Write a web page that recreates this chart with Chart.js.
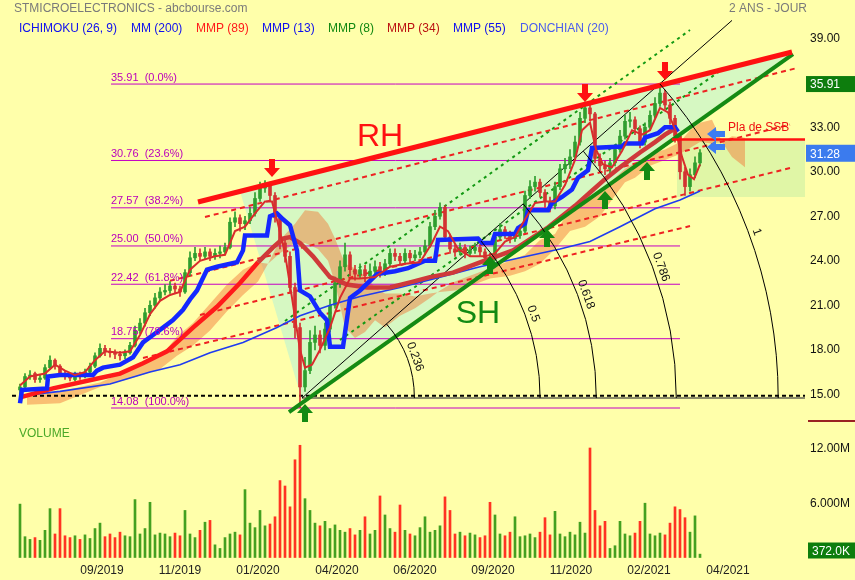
<!DOCTYPE html>
<html>
<head>
<meta charset="utf-8">
<script src="https://cdn.jsdelivr.net/npm/chart.js@4.4.1/dist/chart.umd.min.js"></script>
<style>
  html, body { margin: 0; padding: 0; background: #ffffaa; }
</style>
</head>
<body>
<canvas id="stockChart" width="855" height="580"></canvas>
<script>
// x axis: one sample every 3 trading days, index 0 = first candle
const tickPos = [16.4, 32, 47.6, 63.4, 79, 94.6, 110.2, 125.8, 141.6];
const tickLabels = ['09/2019', '11/2019', '01/2020', '04/2020', '06/2020', '09/2020', '11/2020', '02/2021', '04/2021'];
const priceTicks = [15, 18, 21, 24, 27, 30, 33, 36, 39];

const openP = [15.3,15.5,16.2,16.4,16.0,16.1,16.8,17.3,16.9,16.4,
  16.2,16.0,16.3,16.2,16.5,16.9,17.6,18.1,17.9,17.8,
  17.7,17.6,17.8,18.3,19.3,19.8,20.5,21.0,21.5,21.9,
  22.0,22.3,22.1,21.9,23.2,24.2,24.5,24.3,24.6,24.3,
  24.5,24.6,24.9,26.6,26.9,26.5,26.7,27.2,28.2,28.9,
  29.1,28.4,26.9,25.2,24.3,22.2,19.5,15.5,16.6,18.5,
  19.0,18.3,19.4,21.0,22.5,23.6,24.4,23.4,23.1,23.4,
  23.0,23.3,23.6,23.2,23.8,24.5,24.3,24.0,24.5,24.2,
  24.4,24.6,25.0,26.3,27.0,27.6,25.6,24.8,24.6,24.9,
  24.5,24.7,24.9,24.6,24.2,24.1,25.6,26.1,25.8,25.5,
  25.7,26.0,28.4,29.0,29.3,28.6,28.0,27.7,29.0,30.2,
  30.5,31.0,32.0,33.6,34.3,33.9,30.9,30.4,30.2,30.6,
  31.5,32.4,33.4,33.5,32.9,32.0,33.0,33.8,34.6,35.3,
  34.5,33.6,32.4,30.0,29.0,29.8,30.6];
const highP = [15.7,16.4,16.6,16.5,16.3,17.0,17.6,17.4,17.0,16.6,
  16.4,16.5,16.5,16.7,17.1,17.8,18.4,18.3,18.1,18.0,
  17.9,18.0,18.5,19.6,20.1,20.8,21.3,21.8,22.2,22.4,
  22.6,22.5,22.3,23.4,24.6,24.9,24.8,24.9,24.8,24.8,
  25.0,25.2,26.9,27.3,27.1,27.0,27.6,28.6,29.3,29.4,
  29.3,28.6,27.1,25.5,24.6,22.5,19.8,17.5,19.3,19.6,
  19.3,19.8,21.4,22.9,24.0,25.2,24.6,23.7,23.8,23.7,
  23.8,24.0,23.9,24.1,24.8,24.8,24.5,24.8,24.7,24.7,
  24.9,25.4,26.6,27.4,27.9,27.7,25.8,25.1,25.2,25.1,
  25.0,25.2,25.1,24.8,24.5,25.9,26.5,26.3,26.0,26.0,
  26.4,28.7,29.4,29.7,29.5,28.8,28.3,29.3,30.5,30.9,
  31.5,32.4,34.0,34.7,34.6,34.0,31.2,30.7,30.9,31.8,
  32.8,33.8,34.0,33.7,33.1,33.3,34.1,35.0,35.9,35.5,
  34.7,33.8,32.5,30.3,30.2,31.0,31.5];
const lowP = [15.0,15.4,16.0,15.8,15.8,16.0,16.7,16.7,16.3,16.0,
  15.9,15.9,16.0,16.1,16.4,16.8,17.5,17.6,17.5,17.4,
  17.3,17.4,17.7,18.2,19.1,19.6,20.3,20.8,21.3,21.7,
  21.8,21.8,21.6,21.8,23.0,24.0,24.0,24.1,24.0,24.1,
  24.2,24.4,24.8,26.3,26.0,26.1,26.5,27.0,28.0,28.6,
  28.1,26.6,24.8,23.9,21.8,18.8,14.1,15.2,16.4,18.0,
  17.8,18.0,19.2,20.8,22.2,23.3,23.0,22.7,22.8,22.6,
  22.8,23.0,22.9,23.0,23.6,24.0,23.7,23.8,23.9,24.0,
  24.2,24.4,24.9,26.1,26.8,25.3,24.5,24.3,24.4,24.2,
  24.3,24.5,24.3,23.8,23.6,24.0,25.4,25.5,25.2,25.3,
  25.5,25.9,28.2,28.7,28.3,27.6,27.3,27.5,28.8,29.9,
  30.2,30.8,31.8,33.3,33.5,30.6,30.0,29.8,29.9,30.4,
  31.3,32.2,33.0,32.5,31.6,31.8,32.8,33.6,34.4,34.2,
  33.2,32.0,29.5,28.4,28.7,29.6,30.4];
const closeP = [15.5,16.2,16.3,16.0,16.1,16.8,17.3,16.9,16.4,16.2,
  16.1,16.3,16.2,16.5,16.9,17.6,18.1,17.9,17.8,17.7,
  17.6,17.8,18.3,19.3,19.8,20.5,21.0,21.5,21.9,22.0,
  22.3,22.1,21.9,23.2,24.2,24.5,24.3,24.6,24.3,24.5,
  24.6,24.9,26.6,26.9,26.5,26.7,27.2,28.2,28.9,29.1,
  28.4,26.9,25.2,24.3,22.2,19.5,15.5,16.6,18.5,19.0,
  18.3,19.4,21.0,22.5,23.6,24.4,23.4,23.1,23.4,23.0,
  23.3,23.6,23.2,23.8,24.5,24.3,24.0,24.5,24.2,24.4,
  24.6,25.0,26.3,27.0,27.6,25.6,24.8,24.6,24.9,24.5,
  24.7,24.9,24.6,24.2,24.1,25.6,26.1,25.8,25.5,25.7,
  26.0,28.4,29.0,29.3,28.6,28.0,27.7,29.0,30.2,30.5,
  31.0,32.0,33.6,34.3,33.9,30.9,30.4,30.2,30.6,31.5,
  32.4,33.4,33.5,32.9,32.0,33.0,33.8,34.6,35.3,34.5,
  33.6,32.4,30.0,29.0,29.8,30.6,31.28];
// volume in millions of shares
const volume = [5.9,2.3,2.0,2.2,1.9,3.0,5.4,2.6,5.4,2.4,
  2.2,2.4,2.0,2.5,2.1,3.2,3.8,2.3,2.6,2.2,
  2.8,2.4,2.3,6.4,2.6,3.2,6.1,2.5,2.7,2.6,
  2.3,2.7,2.4,5.2,2.6,2.2,3.0,3.9,4.1,1.4,
  1.0,2.2,2.6,2.8,2.5,7.5,3.8,3.3,5.2,3.5,
  3.7,4.5,8.5,7.9,5.6,10.8,12.4,6.5,5.2,3.8,
  3.5,4.0,3.2,3.6,3.0,2.8,3.2,2.5,3.0,4.5,
  2.6,3.0,6.8,4.7,3.2,2.8,5.8,3.0,2.6,2.4,
  3.3,4.5,2.8,3.0,3.5,6.7,5.2,2.6,2.8,2.4,
  2.7,2.5,2.2,2.4,6.1,4.7,2.6,2.4,2.8,4.5,
  2.3,2.4,2.6,2.2,2.8,4.4,2.5,5.1,2.6,2.3,
  2.8,2.5,3.9,2.7,12.1,5.2,3.5,4.0,1.0,1.3,
  4.0,2.6,2.4,2.7,4.0,6.0,2.6,2.4,2.7,2.5,
  3.8,5.6,5.3,4.4,2.8,4.6,0.372];

// indicators, [index, price]
const mm200 = [[0,14.9],[8,15.2],[18,15.7],[26,16.5],[32,17.0],[38,17.8],[44.6,18.5],[48,19.0],[51.4,19.5],
  [56,20.3],[62,21.0],[68,21.6],[76,22.2],[84,22.9],[92,23.6],[100,24.2],[108,24.8],[114,25.3],[120,26.3],
  [127,27.5],[132,28.1],[136,28.7]];
const kijun = [[0,14.4],[0.4,15.3],[5.4,15.4],[5.6,16.2],[8,16.3],[14.6,16.3],[15.4,16.6],[16.6,16.8],[20,17.0],
  [22.6,17.5],[24.6,18.5],[26.6,19.0],[28.6,19.5],[30.6,20.0],[32.6,20.7],[34,21.4],[35.4,22.0],[36.4,22.7],
  [37.4,23.4],[39.4,23.6],[43.4,23.9],[44.6,24.7],[45,25.7],[49.4,25.7],[50,27.0],[51.4,27.2],[52.6,26.8],
  [54,26.4],[55.4,24.7],[56,22.0],[58,21.6],[60,20.5],[61.4,20.0],[62,18.2],[64.6,18.2],[66,21.5],[68,22.0],
  [71.4,23.1],[75,23.3],[77.6,23.5],[81,24.0],[83,24.0],[83.6,25.4],[91.6,25.5],[92.4,25.2],[94.4,25.2],
  [95,25.8],[99,25.8],[99.6,26.2],[101,26.5],[101.6,27.4],[105.6,27.4],[106.4,27.9],[108.4,28.3],[110.4,28.8],
  [111.6,29.6],[113.6,30.1],[114.4,31.6],[120.4,31.7],[121,31.9],[124.4,31.9],[125,32.3],[127.6,32.6],
  [129,33.0],[131,33.0],[131.6,32.7]];
const mmp89 = [[0,14.8],[6.6,15.4],[14.6,16.0],[20,16.4],[24.6,17.1],[29.4,17.9],[34.6,19.5],[39.4,20.9],
  [44,22.5],[47.6,23.9],[50.6,24.9],[52.6,25.5],[54,25.6],[56,25.2],[58.6,24.3],[62,22.9],[65.4,22.4],
  [69.4,22.2],[74,22.2],[78.6,22.6],[82,22.9],[86.6,23.2],[92,23.9],[98.6,24.7],[105.4,26.2],[108,26.9],
  [111,27.7],[114,28.6],[117,29.5],[120.4,30.4],[124,31.3],[127,32.0],[129,32.5],[131.4,33.0]];
const mmp8 = [[0,15.6],[2,16.2],[5,16.4],[7,17.0],[9,16.6],[11,16.3],[13,16.5],[15,17.3],[17,17.9],[20,17.8],
  [22,17.9],[24,19.0],[26,20.4],[28,21.3],[30,21.7],[32,21.9],[34,23.4],[36,24.0],[39,24.3],[41,24.4],
  [43,26.0],[45,26.3],[47,27.2],[49,28.0],[50.4,28.0],[51.6,26.5],[53,24.5],[54.4,21.5],[56,18.0],[57,16.8],
  [58.4,17.0],[60,18.0],[62,19.5],[64,21.5],[66,22.8],[68,22.8],[71,22.9],[74,23.6],[77,23.8],[80,23.9],
  [82.4,25.2],[84,26.3],[85.6,26.0],[87.6,24.8],[90,24.3],[93,24.3],[95,24.5],[97,25.3],[99,25.6],[101,26.8],
  [103,27.9],[105,28.0],[107,28.0],[109,29.1],[111,30.8],[112.4,32.8],[114,33.3],[115.2,31.5],[116.6,30.5],
  [118.4,30.3],[120.4,31.4],[122.4,32.8],[124.4,32.5],[126,32.8],[128,34.3],[129.6,34.0],[131.2,32.7],
  [132.4,31.0],[133.6,29.8],[134.8,29.5],[136,30.5]];
const cloudX = [1.4,8,16,23.4,28,31.4,34.6,38,41.4,44.6,47.6,49.6,52,55,57,59.6,61.6,63,65,67,69,71,73,76,79,
  82,84,87,90,94,98,101,104,107,110,113,116,119,121,123,126,129,132,134,136,138.4,140.4,142.4,145];
const spanA = [15.0,15.2,15.8,16.9,17.5,18.9,19.8,21.1,22.4,23.4,23.9,23.8,24.5,25.2,25.2,24.8,24.0,22.5,19.5,
  18.8,19.2,20.0,19.5,20.3,20.8,21.5,22.0,22.6,23.0,23.5,24.0,24.4,25.4,25.8,27.5,28.0,28.6,29.6,30.2,30.6,
  31.2,31.5,32.0,32.8,33.3,33.5,32.0,31.0,30.3];
const spanB = [14.3,14.4,15.5,16.2,16.7,17.6,18.3,19.3,20.6,21.7,22.6,23.8,25.4,26.5,27.4,27.3,26.5,25.5,23.8,
  23.5,23.0,22.2,21.8,21.8,21.6,21.8,21.9,22.0,22.3,22.8,23.0,23.3,23.8,24.8,26.0,26.3,27.0,28.4,29.3,29.6,
  30.4,30.8,31.2,31.6,32.0,31.9,32.0,32.4,32.3];

// drawn lines, [index, price] end points
const rhLine = [[35.6,27.96],[154.4,38.07]];
const shLine = [[53.8,13.81],[154.6,37.93]];
const redChannels = [[[37,26.95],[155.4,36.99]], [[30,22.65],[154,33.18]], [[36,20.35],[154,30.25]], [[24.6,17.45],[134,26.34]]];
const greenChannels = [[[53,19.94],[134,39.55]], [[64,18.66],[139.6,36.7]]];
const fanLine = [[56.4,14.75],[142.4,40.2]];
const lowDashed = [[-1.6,14.9],[157,14.9]];
const arcBase = [[56.4,14.75],[157,14.75]];
const arcHigh = [128, 35.91];
const arcRatios = [0.236, 0.5, 0.618, 0.786, 1];
const arcLabels = ['0.236', '0.5', '0.618', '0.786', '1'];
const fibLevels = [35.91, 30.76, 27.57, 25.00, 22.42, 18.75, 14.08];
const fibPct = ['0.0%', '23.6%', '38.2%', '50.0%', '61.8%', '78.6%', '100.0%'];
const fibSpan = [18.2, 132];
const wedge = [[44,28.68],[154.6,38.07],[56.4,14.62]];
const ssbLevel = 32.17;
const projBox = [131.4, 157, 28.3, 32.14];
const redArrows = [[50.4,29.65],[113,34.7],[129,36.18]];
const greenArrows = [[57,14.35],[94,24.32],[105.4,26.14],[117,28.7],[125.4,30.66]];
const blueArrows = [[137.4,32.54],[137.4,31.67]];
const lastClose = 31.28;
const lastVolume = '372.0K';

const FONT = "Arial, 'Liberation Sans', sans-serif";
const idx = closeP.map((_, i) => i);
const candleCol = closeP.map((c, i) => c >= openP[i] ? '#2f9e2f' : '#d33232');
const volCol = closeP.map((c, i) => c >= openP[i] ? '#44a020' : '#ff3322');
const xy = pts => pts.map(([x, y]) => ({ x, y }));

function line(points, color, width, dash, order, extra) {
  return Object.assign({
    type: 'line', data: xy(points), borderColor: color, borderWidth: width,
    borderDash: dash || [], pointRadius: 0, fill: false, order: order, yAxisID: 'y'
  }, extra || {});
}

const datasets = [
  { type: 'line', data: cloudX.map((x, k) => ({ x, y: spanA[k] })), borderWidth: 0, pointRadius: 0,
    fill: '+1', backgroundColor: 'rgba(242,112,48,0.45)', order: 30, yAxisID: 'y' },
  { type: 'line', data: cloudX.map((x, k) => ({ x, y: spanB[k] })), borderWidth: 0, pointRadius: 0,
    fill: false, order: 31, yAxisID: 'y' },
  ...fibLevels.map(v => line([[fibSpan[0], v], [fibSpan[1], v]], '#c400c4', 1, null, 28)),
  ...redChannels.map(p => line(p, '#ee2222', 2, [5, 4], 26)),
  ...greenChannels.map(p => line(p, '#139913', 2, [3, 4], 26)),
  line(fanLine, '#000000', 1, null, 25),
  line(lowDashed, '#000000', 2, [4, 3], 25),
  line(arcBase, '#8c8c6a', 2, null, 25),
  { type: 'bar', data: idx.map(i => ({ x: i, y: volume[i] })), backgroundColor: volCol,
    barThickness: 2, grouped: false, order: 24, yAxisID: 'vol' },
  { type: 'bar', data: idx.map(i => ({ x: i, y: [lowP[i], highP[i]] })), backgroundColor: candleCol,
    barThickness: 1, grouped: false, order: 22, yAxisID: 'y' },
  { type: 'bar', data: idx.map(i => ({ x: i, y: [openP[i], closeP[i]] })), backgroundColor: candleCol,
    barThickness: 3, minBarLength: 1, grouped: false, order: 21, yAxisID: 'y' },
  line(mm200, '#1f3cf0', 1.6, null, 18),
  line(mmp89, '#ff1a1a', 4.5, null, 16, { segment: { borderColor: c => c.p0.parsed.x < 47.6 ? '#ff1a1a' : '#cf3a3a' } }),
  line(kijun, '#1428ff', 4.5, null, 15),
  line(mmp8, '#d92c2c', 2, null, 14),
  line(rhLine, '#ff1111', 5, null, 10),
  line(shLine, '#148a14', 4, null, 10)
];

function arrow(c, px, py, dir, color) {
  c.fillStyle = color;
  c.beginPath();
  if (dir === 'down') {
    c.moveTo(px, py); c.lineTo(px - 8, py - 9); c.lineTo(px - 3, py - 9); c.lineTo(px - 3, py - 18);
    c.lineTo(px + 3, py - 18); c.lineTo(px + 3, py - 9); c.lineTo(px + 8, py - 9);
  } else if (dir === 'up') {
    c.moveTo(px, py); c.lineTo(px - 8, py + 9); c.lineTo(px - 3, py + 9); c.lineTo(px - 3, py + 18);
    c.lineTo(px + 3, py + 18); c.lineTo(px + 3, py + 9); c.lineTo(px + 8, py + 9);
  } else {
    c.moveTo(px, py); c.lineTo(px + 9, py - 7); c.lineTo(px + 9, py - 3); c.lineTo(px + 18, py - 3);
    c.lineTo(px + 18, py + 3); c.lineTo(px + 9, py + 3); c.lineTo(px + 9, py + 7);
  }
  c.closePath();
  c.fill();
}

function box(c, x, y, w, h, bg, text) {
  c.fillStyle = bg;
  c.fillRect(x, y, w, h);
  c.fillStyle = '#ffffff';
  c.textAlign = 'left';
  c.textBaseline = 'middle';
  c.fillText(text, x + 4, y + h / 2 + 1);
}

const overlay = {
  id: 'overlay',
  beforeDraw(chart) {
    const c = chart.ctx;
    c.save();
    c.fillStyle = '#ffffaa';
    c.fillRect(0, 0, chart.width, chart.height);
    c.restore();
  },
  beforeDatasetsDraw(chart) {
    const { ctx: c, chartArea: a, scales: { x, y } } = chart;
    const pt = (i, p) => [x.getPixelForValue(i), y.getPixelForValue(p)];
    c.save();
    c.beginPath(); c.rect(a.left, a.top, a.width, a.height); c.clip();
    c.fillStyle = '#d6f8c2';
    c.beginPath();
    wedge.forEach(([i, p], k) => { const [px, py] = pt(i, p); k ? c.lineTo(px, py) : c.moveTo(px, py); });
    c.closePath(); c.fill();
    const [bx0, by0] = pt(projBox[0], projBox[3]);
    const [bx1, by1] = pt(projBox[1], projBox[2]);
    c.fillStyle = '#e0f6a6';
    c.fillRect(bx0, by0, bx1 - bx0, by1 - by0);
    c.restore();
  },
  afterDatasetsDraw(chart) {
    const { ctx: c, chartArea: a, scales: { x, y, vol } } = chart;
    const pt = (i, p) => [x.getPixelForValue(i), y.getPixelForValue(p)];
    c.save();
    c.beginPath(); c.rect(a.left, a.top, a.width, a.height); c.clip();

    // fibonacci arcs from the low
    const [cx, cy] = pt(fanLine[0][0], fanLine[0][1]);
    const [hx, hy] = pt(arcHigh[0], arcHigh[1]);
    const R = Math.hypot(hx - cx, hy - cy);
    const a0 = Math.atan2(hy - cy, hx - cx);
    c.strokeStyle = '#000'; c.lineWidth = 1;
    c.font = '12px ' + FONT; c.fillStyle = '#111';
    c.textAlign = 'center'; c.textBaseline = 'middle';
    arcRatios.forEach((r, k) => {
      c.beginPath(); c.arc(cx, cy, r * R, a0, 0); c.stroke();
      const th = -0.35, rr = r * R + 8;
      c.save();
      c.translate(cx + rr * Math.cos(th), cy + rr * Math.sin(th));
      c.rotate(th + Math.PI / 2);
      c.fillText(arcLabels[k], 0, 0);
      c.restore();
    });

    // fibonacci level labels
    c.font = '11px ' + FONT; c.fillStyle = '#bb00bb';
    c.textAlign = 'left'; c.textBaseline = 'bottom';
    fibLevels.forEach((v, k) => {
      const [px, py] = pt(fibSpan[0], v);
      c.fillText(v.toFixed(2) + '  (' + fibPct[k] + ')', px, py - 1);
    });

    // plateau of senkou span B
    const [sx0, sy] = pt(130.4, ssbLevel);
    c.strokeStyle = '#ff1111'; c.lineWidth = 2.5;
    c.beginPath(); c.moveTo(sx0, sy); c.lineTo(a.right, sy); c.stroke();
    c.font = '12px ' + FONT; c.fillStyle = '#ee1111'; c.textBaseline = 'middle';
    const [lx, ly] = pt(141.6, 32.95);
    c.fillText('Pla de SSB', lx, ly);

    redArrows.forEach(([i, p]) => { const [px, py] = pt(i, p); arrow(c, px, py, 'down', '#ff1111'); });
    greenArrows.forEach(([i, p]) => { const [px, py] = pt(i, p); arrow(c, px, py, 'up', '#138a13'); });
    blueArrows.forEach(([i, p]) => { const [px, py] = pt(i, p); arrow(c, px, py, 'left', '#3c7cf2'); });

    c.font = '32px ' + FONT; c.textAlign = 'center'; c.textBaseline = 'middle';
    c.fillStyle = '#ff1111';
    let [tx, ty] = pt(72, 32.48); c.fillText('RH', tx, ty + 2);
    c.fillStyle = '#138a13';
    [tx, ty] = pt(91.6, 20.55); c.fillText('SH', tx, ty + 2);
    c.restore();

    // header, legend, side labels
    c.save();
    c.font = '12px ' + FONT; c.textBaseline = 'middle'; c.textAlign = 'left';
    c.fillStyle = '#7a7a7a';
    c.fillText('STMICROELECTRONICS - abcbourse.com', 14, 9);
    c.fillText('2 ANS - JOUR', 729, 9);
    const legend = [['ICHIMOKU (26, 9)', 19, '#1010ee'], ['MM (200)', 131, '#1010ee'], ['MMP (89)', 196, '#ff1a1a'],
      ['MMP (13)', 262, '#1010ee'], ['MMP (8)', 328, '#118811'], ['MMP (34)', 387, '#bb1111'],
      ['MMP (55)', 453, '#1010ee'], ['DONCHIAN (20)', 520, '#4a5cee']];
    legend.forEach(([t, lx2, col]) => { c.fillStyle = col; c.fillText(t, lx2, 29); });
    c.fillStyle = '#4aa828';
    c.fillText('VOLUME', 19, 434);

    c.fillStyle = '#111';
    [12, 6].forEach(v => c.fillText(v === 12 ? '12.00M' : '6.000M', 810, vol.getPixelForValue(v)));

    box(c, 806, y.getPixelForValue(fibLevels[0]) - 8, 49, 16, '#0d7d0d', fibLevels[0].toFixed(2));
    box(c, 806, y.getPixelForValue(lastClose) - 8, 49, 17, '#3b7bee', lastClose.toFixed(2));
    box(c, 808, vol.getPixelForValue(0) - 15, 47, 16, '#0d7d0d', lastVolume);
    c.strokeStyle = '#992222'; c.lineWidth = 2;
    c.beginPath(); c.moveTo(808, 421); c.lineTo(855, 421); c.stroke();
    c.restore();
  }
};

const ctx = document.getElementById('stockChart').getContext('2d');
const stockChart = new Chart(ctx, {
  type: 'bar',
  data: { datasets: datasets },
  options: {
    responsive: false,
    animation: false,
    layout: { padding: { left: 12, top: 20, right: 0, bottom: 0 } },
    plugins: { legend: { display: false }, tooltip: { enabled: false } },
    scales: {
      x: {
        type: 'linear', min: -1.6, max: 157, offset: false,
        grid: { display: false, drawTicks: false }, border: { display: false },
        afterBuildTicks: s => { s.ticks = tickPos.map(v => ({ value: v })); },
        afterFit: s => { s.height = 20; },
        ticks: { callback: (v, i) => tickLabels[i], autoSkip: false, maxRotation: 0, padding: 3,
          color: '#222', font: { family: FONT, size: 12 } }
      },
      y: {
        type: 'linear', position: 'right', min: 3.8375, max: 40.2264,
        grid: { display: false, drawTicks: false }, border: { display: false },
        afterBuildTicks: s => { s.ticks = priceTicks.map(v => ({ value: v })); },
        afterFit: s => { s.width = 50; },
        ticks: { callback: v => v.toFixed(2), padding: 5, color: '#111', font: { family: FONT, size: 12 } }
      },
      vol: { type: 'linear', position: 'right', display: false, min: -0.276, max: 59.39 }
    }
  },
  plugins: [overlay]
});
</script>
</body>
</html>
